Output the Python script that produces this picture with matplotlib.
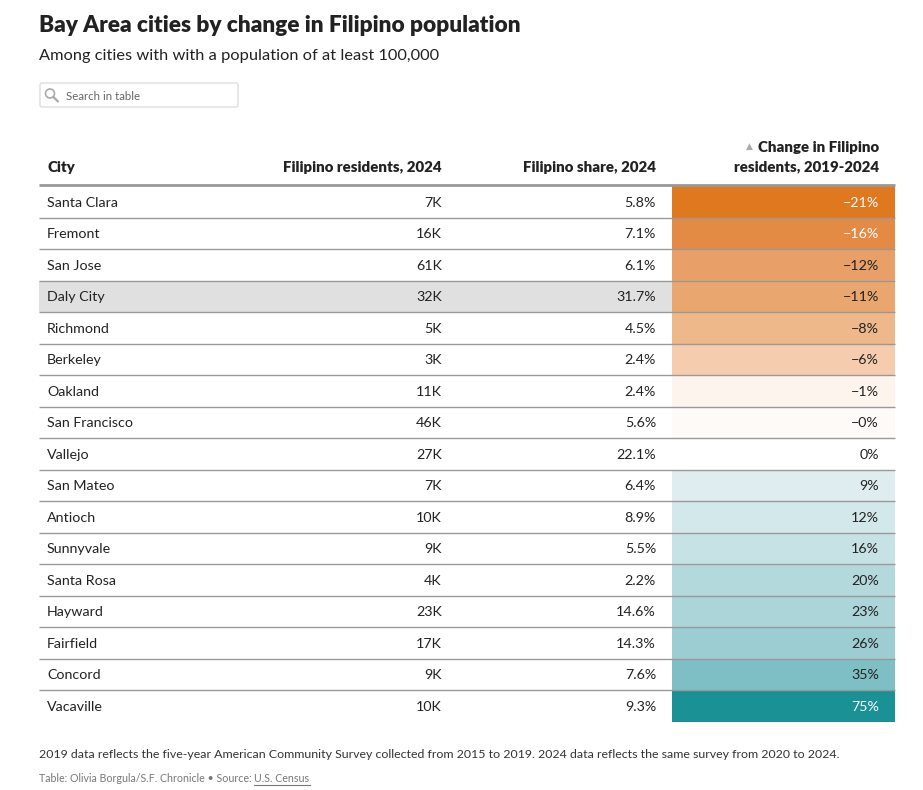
import matplotlib
matplotlib.use("Agg")
import matplotlib.pyplot as plt
from matplotlib.patches import Rectangle, FancyBboxPatch, Circle

plt.rcParams['font.family'] = ['Lato', 'DejaVu Sans']

# ---------------- data ----------------
cities = ["Santa Clara", "Fremont", "San Jose", "Daly City", "Richmond", "Berkeley",
          "Oakland", "San Francisco", "Vallejo", "San Mateo", "Antioch", "Sunnyvale",
          "Santa Rosa", "Hayward", "Fairfield", "Concord", "Vacaville"]
residents_k = [7, 16, 61, 32, 5, 3, 11, 46, 27, 7, 10, 9, 4, 23, 17, 9, 10]
share_pct = [5.8, 7.1, 6.1, 31.7, 4.5, 2.4, 2.4, 5.6, 22.1, 6.4, 8.9, 5.5, 2.2, 14.6, 14.3, 7.6, 9.3]
change_pct = [-21, -16, -12, -11, -8, -6, -1, -0.0, 0, 9, 12, 16, 20, 23, 26, 35, 75]
change_colors = ["#e07820", "#e38a45", "#e8a068", "#e9a76f", "#efb88a", "#f5cdae",
                 "#fdf4ee", "#fefaf8", "#ffffff", "#dfedf0", "#d3e8ea", "#c6e2e4",
                 "#b4d9dc", "#acd5d9", "#9ccdd2", "#7dbfc4", "#1a9195"]
highlight_city = "Daly City"
headers = ["City", "Filipino residents, 2024", "Filipino share, 2024",
           "Change in Filipino\nresidents, 2019-2024"]
title = "Bay Area cities by change in Filipino population"
subtitle = "Among cities with with a population of at least 100,000"
note = ("2019 data reflects the five-year American Community Survey collected from 2015 "
        "to 2019. 2024 data reflects the same survey from 2020 to 2024.")
source_prefix = "Table: Olivia Borgula/S.F. Chronicle \u2022 Source: "
source_link = "U.S. Census"

# ---------------- layout ----------------
W, H = 923, 790
fig = plt.figure(figsize=(W / 100, H / 100), dpi=100)
ax = fig.add_axes([0, 0, 1, 1])
ax.set_xlim(0, W)
ax.set_ylim(H, 0)
ax.axis("off")

dark = "#222222"
left, right = 39, 895
col_change_left = 672
col_x = [47, 442, 656, 879]
table_top = 186
row_h = 31.5
fs = 10.3
hfs = 10.8

# title & subtitle
ax.text(left, 25, title, fontsize=16.3, fontweight="heavy", color=dark, va="center", ha="left")
ax.text(left, 56, subtitle, fontsize=11.8, color=dark, va="center", ha="left")

# search box
ax.add_patch(FancyBboxPatch((left + 1, 83), 198, 24, boxstyle="round,pad=0,rounding_size=2",
                            fc="white", ec="#dddddd", lw=1))
ax.add_patch(Circle((50, 93.5), 4.5, fc="none", ec="#aaaaaa", lw=1.2))
ax.plot([53.5, 58], [97, 101.5], color="#aaaaaa", lw=1.6, solid_capstyle="round")
ax.text(66, 96, "Search in table", fontsize=8.3, color="#666666", va="center", ha="left")

# headers
ax.text(col_x[0], 167, headers[0], fontsize=hfs, fontweight="heavy", color=dark, va="center", ha="left")
ax.text(col_x[1], 167, headers[1], fontsize=hfs, fontweight="heavy", color=dark, va="center", ha="right")
ax.text(col_x[2], 167, headers[2], fontsize=hfs, fontweight="heavy", color=dark, va="center", ha="right")
h1, h2 = headers[3].split("\n")
th1 = ax.text(col_x[3], 147, h1, fontsize=hfs, fontweight="heavy", color=dark, va="center", ha="right")
ax.text(col_x[3], 167, h2, fontsize=hfs, fontweight="heavy", color=dark, va="center", ha="right")
fig.canvas.draw()
inv = ax.transData.inverted()
bbh = th1.get_window_extent()
x_h1 = inv.transform((bbh.x0, bbh.y0))[0]
ax.text(x_h1 - 5, 146, "\u25B2", fontsize=6.5, color="#aaaaaa", va="center", ha="right",
        family=["DejaVu Sans"])
ax.plot([left, right], [185, 185], color="#999999", lw=2, solid_capstyle="butt")

# rows
for i, city in enumerate(cities):
    y0 = table_top + i * row_h
    yc = y0 + row_h / 2 + 1
    if city == highlight_city:
        ax.add_patch(Rectangle((left, y0), col_change_left - left, row_h, fc="#e0e0e0", ec="none"))
    ax.add_patch(Rectangle((col_change_left, y0), right - col_change_left, row_h,
                           fc=change_colors[i], ec="none"))
    v = change_pct[i]
    txt_col = "white" if (v <= -15 or v >= 50) else dark
    ax.text(col_x[0], yc, city, fontsize=fs, color=dark, va="center", ha="left")
    ax.text(col_x[1], yc, f"{residents_k[i]}K", fontsize=fs, color=dark, va="center", ha="right")
    ax.text(col_x[2], yc, f"{share_pct[i]:.1f}%", fontsize=fs, color=dark, va="center", ha="right")
    ax.text(col_x[3], yc, f"{v:.0f}%".replace("-", "\u2212"), fontsize=fs, color=txt_col,
            va="center", ha="right")
    if i < len(cities) - 1:
        ax.plot([left, right], [y0 + row_h, y0 + row_h], color="#999999", lw=1, solid_capstyle="butt")

# footer
ax.text(left, 754, note, fontsize=8.9, color="#333333", va="center", ha="left")
t1 = ax.text(left, 779, source_prefix, fontsize=7.7, color="#777777", va="center", ha="left")
fig.canvas.draw()
bb = t1.get_window_extent()
x_end = inv.transform((bb.x1, bb.y0))[0]
t2 = ax.text(x_end, 779, source_link, fontsize=7.7, color="#777777", va="center", ha="left")
fig.canvas.draw()
bb2 = t2.get_window_extent()
x2_end = inv.transform((bb2.x1, bb2.y0))[0]
ax.plot([x_end, x2_end], [785, 785], color="#777777", lw=0.8)

fig.savefig("out.png", dpi=100, facecolor="white")
